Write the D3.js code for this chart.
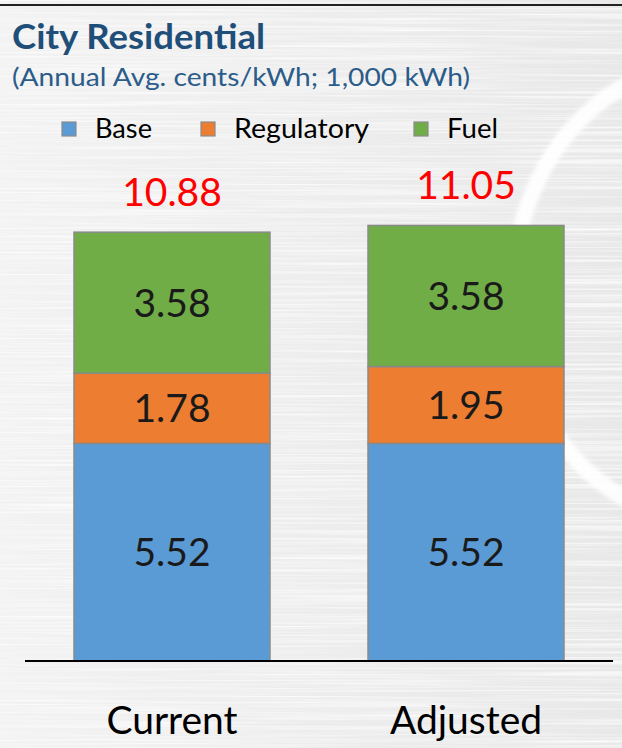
<!DOCTYPE html>
<html>
<head>
<meta charset="utf-8">
<script src="https://cdn.jsdelivr.net/npm/d3@7"></script>
<style>
  html, body { margin: 0; padding: 0; background: #ffffff; }
  svg { display: block; }
  text { font-family: Lato, "Open Sans", "DejaVu Sans", sans-serif; }
</style>
</head>
<body>
<svg id="chart" width="622" height="748"></svg>
<script>
// ---- data ----
const categories = ["Current", "Adjusted"];
const seriesNames = ["Base", "Regulatory", "Fuel"];
const baseValues = [5.52, 5.52];
const regulatoryValues = [1.78, 1.95];
const fuelValues = [3.58, 3.58];
const colors = ["#5B9BD5", "#ED7D31", "#70AD47"];

const titleText = "City Residential";
const subtitleText = "(Annual Avg. cents/kWh; 1,000 kWh)";

// ---- build table ----
const rows = categories.map((c, i) => ({
  category: c,
  Base: baseValues[i],
  Regulatory: regulatoryValues[i],
  Fuel: fuelValues[i]
}));
const stacked = d3.stack().keys(seriesNames)(rows);

const W = 622, H = 748;
const svg = d3.select("#chart");

// ---- background (brushed metal) ----
const defs = svg.append("defs");
const grad = defs.append("linearGradient").attr("id", "bg").attr("x1", 0).attr("x2", 1).attr("y1", 0).attr("y2", 0);
grad.append("stop").attr("offset", "0%").attr("stop-color", "#f2f2f2");
grad.append("stop").attr("offset", "100%").attr("stop-color", "#e8e8e8");
const f = defs.append("filter").attr("id", "brush").attr("x", 0).attr("y", 0).attr("width", 1).attr("height", 1);
f.append("feTurbulence").attr("type", "fractalNoise").attr("baseFrequency", "0.004 0.5").attr("numOctaves", 3).attr("seed", 4).attr("result", "n");
f.append("feColorMatrix").attr("in", "n").attr("type", "matrix")
  .attr("values", "0 0 0 0 1  0 0 0 0 1  0 0 0 0 1  1.8 0 0 0 -0.75");
defs.append("filter").attr("id", "blur").append("feGaussianBlur").attr("stdDeviation", 2);

svg.append("rect").attr("width", W).attr("height", H).attr("fill", "url(#bg)");
svg.append("rect").attr("width", W).attr("height", H).attr("filter", "url(#brush)");

// soft white arc on the right
svg.append("ellipse").attr("cx", 708).attr("cy", 292).attr("rx", 195).attr("ry", 228)
  .attr("fill", "none").attr("stroke", "#ffffff").attr("stroke-width", 16)
  .attr("opacity", 0.95).attr("filter", "url(#blur)");

// top border line
svg.append("line").attr("x1", 0).attr("x2", W).attr("y1", 5).attr("y2", 5)
  .attr("stroke", "#222").attr("stroke-width", 2);

// ---- titles ----
svg.append("text").attr("x", 12).attr("y", 49)
  .attr("font-size", 35).attr("font-weight", 700).attr("fill", "#1F4E79")
  .attr("textLength", 253).attr("lengthAdjust", "spacingAndGlyphs")
  .text(titleText);
svg.append("text").attr("x", 12).attr("y", 86)
  .attr("font-size", 25).attr("fill", "#2B5C8A")
  .attr("textLength", 458).attr("lengthAdjust", "spacingAndGlyphs")
  .text(subtitleText);

// ---- legend ----
const legendX = [62, 201, 414];
const legendW = [57, 135, 51];
const lg = svg.append("g");
seriesNames.forEach((s, i) => {
  lg.append("rect").attr("x", legendX[i]).attr("y", 122).attr("width", 14).attr("height", 14)
    .attr("fill", colors[i]).attr("stroke", "#8a8a8a").attr("stroke-width", 1.2);
  lg.append("text").attr("x", legendX[i] + 33).attr("y", 138)
    .attr("font-size", 27).attr("fill", "#000")
    .attr("textLength", legendW[i]).attr("lengthAdjust", "spacingAndGlyphs")
    .text(s);
});

// ---- scales ----
const x = d3.scaleBand().domain(categories).range([25, 613]).paddingInner(1/3).paddingOuter(1/6);
const y = d3.scaleLinear().domain([0, 12]).range([661, 188]);

// ---- bars ----
const layers = svg.append("g").selectAll("g").data(stacked).join("g")
  .attr("fill", (d, i) => colors[i]);
layers.selectAll("rect").data(d => d).join("rect")
  .attr("x", d => x(d.data.category))
  .attr("width", x.bandwidth())
  .attr("y", d => y(d[1]))
  .attr("height", d => y(d[0]) - y(d[1]))
  .attr("stroke", "#8a8a8a").attr("stroke-width", 1.5);

// segment labels
layers.selectAll("text").data(d => d.map(v => ({v, key: d.key}))).join("text")
  .attr("x", d => x(d.v.data.category) + x.bandwidth() / 2)
  .attr("y", d => (y(d.v[0]) + y(d.v[1])) / 2 + 14)
  .attr("text-anchor", "middle")
  .attr("font-size", 39).attr("fill", "#1a1a1a")
  .text(d => d3.format(".2f")(d.v.data[d.key]));

// totals
svg.append("g").selectAll("text").data(rows).join("text")
  .attr("x", d => x(d.category) + x.bandwidth() / 2)
  .attr("y", d => y(d.Base + d.Regulatory + d.Fuel) - 26)
  .attr("text-anchor", "middle")
  .attr("font-size", 39).attr("fill", "#FF0000")
  .text(d => d3.format(".2f")(d.Base + d.Regulatory + d.Fuel));

// ---- x axis ----
const xAxis = svg.append("g").attr("transform", "translate(0,661)")
  .call(d3.axisBottom(x).tickSize(0).tickPadding(45));
xAxis.select(".domain").attr("d", "M25,0H613").attr("stroke", "#000").attr("stroke-width", 2);
xAxis.selectAll("text").attr("font-size", 39).attr("fill", "#000")
  .attr("font-family", "Lato, 'Open Sans', sans-serif");
</script>
</body>
</html>
